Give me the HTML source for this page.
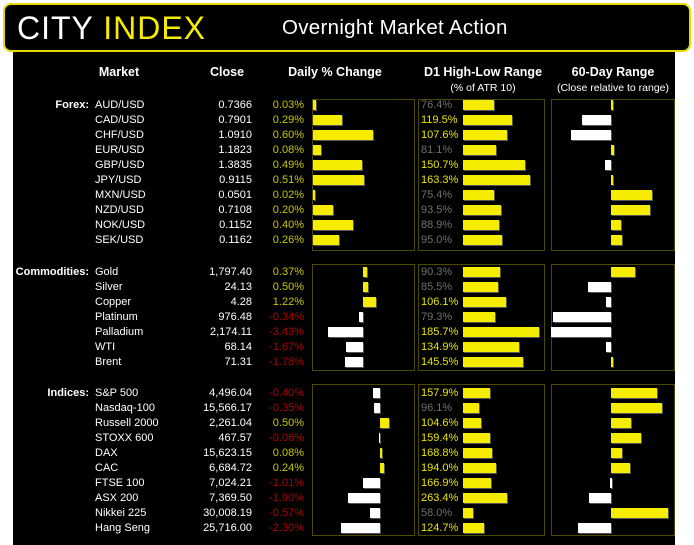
<!DOCTYPE html><html><head><style>
*{margin:0;padding:0;box-sizing:border-box}
body{width:694px;height:545px;background:#fff;position:relative;overflow:hidden;font-family:"Liberation Sans",sans-serif}
#bg{position:absolute;left:13px;top:40px;width:662px;height:505px;background:#000}
#hd{position:absolute;left:3px;top:3px;width:688px;height:49px;background:#000;border:2px solid #e6d800;border-radius:8px}
.t{position:absolute;font-size:11px;line-height:14px;color:#fff;white-space:nowrap}
.h{position:absolute;font-size:12.5px;font-weight:bold;color:#fff;white-space:nowrap;transform:translateX(-50%)}
.s{position:absolute;font-size:10.5px;color:#fff;white-space:nowrap;transform:translateX(-50%)}
.p{position:absolute;border:1px solid #4d4a00}
.b{position:absolute;height:10px;box-shadow:1px 1px 0 #555}
.y{background:#f5ec00}.w{background:#fff}
.r{text-align:right}
.g{color:#c8c800}.n{color:#b00000}.gr{color:#707070}.yl{color:#e8e400}
</style></head><body>
<div id="bg"></div>
<div id="hd">
<div style="position:absolute;left:12px;top:5px;font-size:32px;letter-spacing:1px;color:#fff">CITY <span style="color:#f5ec00">INDEX</span></div>
<div style="position:absolute;left:277px;top:11px;font-size:20.5px;letter-spacing:0.3px;color:#fff">Overnight Market Action</div>
</div>
<div class="h" style="left:119px;top:65px">Market</div>
<div class="h" style="left:227px;top:65px">Close</div>
<div class="h" style="left:335px;top:65px">Daily % Change</div>
<div class="h" style="left:483px;top:65px">D1 High-Low Range</div>
<div class="h" style="left:613px;top:65px">60-Day Range</div>
<div class="s" style="left:483px;top:82px">(% of ATR 10)</div>
<div class="s" style="left:613px;top:82px">(Close relative to range)</div>

<div class="p" style="left:312px;top:99px;width:103px;height:152px"></div>
<div class="p" style="left:418px;top:99px;width:127px;height:152px"></div>
<div class="p" style="left:551px;top:99px;width:124px;height:152px"></div>
<div class="p" style="left:312px;top:264px;width:103px;height:107px"></div>
<div class="p" style="left:418px;top:264px;width:127px;height:107px"></div>
<div class="p" style="left:551px;top:264px;width:124px;height:107px"></div>
<div class="p" style="left:312px;top:384px;width:103px;height:152px"></div>
<div class="p" style="left:418px;top:384px;width:127px;height:152px"></div>
<div class="p" style="left:551px;top:384px;width:124px;height:152px"></div>

<div class="t r" style="left:0;width:89px;top:98px;font-weight:bold">Forex:</div>
<div class="t r" style="left:0;width:89px;top:265px;font-weight:bold">Commodities:</div>
<div class="t r" style="left:0;width:89px;top:386px;font-weight:bold">Indices:</div>

<!-- FOREX -->
<div class="t" style="left:95px;top:98px">AUD/USD</div><div class="t r" style="left:180px;width:72px;top:98px">0.7366</div><div class="t r g" style="left:250px;width:54px;top:98px">0.03%</div><div class="b y" style="left:313px;top:100px;width:3px"></div><div class="t gr" style="left:421px;top:98px">76.4%</div><div class="b y" style="left:463px;top:100px;width:31px"></div><div class="b y" style="left:611px;top:100px;width:2px"></div>
<div class="t" style="left:95px;top:113px">CAD/USD</div><div class="t r" style="left:180px;width:72px;top:113px">0.7901</div><div class="t r g" style="left:250px;width:54px;top:113px">0.29%</div><div class="b y" style="left:313px;top:115px;width:29px"></div><div class="t yl" style="left:421px;top:113px">119.5%</div><div class="b y" style="left:463px;top:115px;width:49px"></div><div class="b w" style="left:582px;top:115px;width:29px"></div>
<div class="t" style="left:95px;top:128px">CHF/USD</div><div class="t r" style="left:180px;width:72px;top:128px">1.0910</div><div class="t r g" style="left:250px;width:54px;top:128px">0.60%</div><div class="b y" style="left:313px;top:130px;width:60px"></div><div class="t yl" style="left:421px;top:128px">107.6%</div><div class="b y" style="left:463px;top:130px;width:44px"></div><div class="b w" style="left:571px;top:130px;width:40px"></div>
<div class="t" style="left:95px;top:143px">EUR/USD</div><div class="t r" style="left:180px;width:72px;top:143px">1.1823</div><div class="t r g" style="left:250px;width:54px;top:143px">0.08%</div><div class="b y" style="left:313px;top:145px;width:8px"></div><div class="t gr" style="left:421px;top:143px">81.1%</div><div class="b y" style="left:463px;top:145px;width:33px"></div><div class="b y" style="left:611px;top:145px;width:3px"></div>
<div class="t" style="left:95px;top:158px">GBP/USD</div><div class="t r" style="left:180px;width:72px;top:158px">1.3835</div><div class="t r g" style="left:250px;width:54px;top:158px">0.49%</div><div class="b y" style="left:313px;top:160px;width:49px"></div><div class="t yl" style="left:421px;top:158px">150.7%</div><div class="b y" style="left:463px;top:160px;width:62px"></div><div class="b w" style="left:605px;top:160px;width:6px"></div>
<div class="t" style="left:95px;top:173px">JPY/USD</div><div class="t r" style="left:180px;width:72px;top:173px">0.9115</div><div class="t r g" style="left:250px;width:54px;top:173px">0.51%</div><div class="b y" style="left:313px;top:175px;width:51px"></div><div class="t yl" style="left:421px;top:173px">163.3%</div><div class="b y" style="left:463px;top:175px;width:67px"></div><div class="b y" style="left:611px;top:175px;width:2px"></div>
<div class="t" style="left:95px;top:188px">MXN/USD</div><div class="t r" style="left:180px;width:72px;top:188px">0.0501</div><div class="t r g" style="left:250px;width:54px;top:188px">0.02%</div><div class="b y" style="left:313px;top:190px;width:2px"></div><div class="t gr" style="left:421px;top:188px">75.4%</div><div class="b y" style="left:463px;top:190px;width:31px"></div><div class="b y" style="left:611px;top:190px;width:41px"></div>
<div class="t" style="left:95px;top:203px">NZD/USD</div><div class="t r" style="left:180px;width:72px;top:203px">0.7108</div><div class="t r g" style="left:250px;width:54px;top:203px">0.20%</div><div class="b y" style="left:313px;top:205px;width:20px"></div><div class="t gr" style="left:421px;top:203px">93.5%</div><div class="b y" style="left:463px;top:205px;width:38px"></div><div class="b y" style="left:611px;top:205px;width:39px"></div>
<div class="t" style="left:95px;top:218px">NOK/USD</div><div class="t r" style="left:180px;width:72px;top:218px">0.1152</div><div class="t r g" style="left:250px;width:54px;top:218px">0.40%</div><div class="b y" style="left:313px;top:220px;width:40px"></div><div class="t gr" style="left:421px;top:218px">88.9%</div><div class="b y" style="left:463px;top:220px;width:36px"></div><div class="b y" style="left:611px;top:220px;width:10px"></div>
<div class="t" style="left:95px;top:233px">SEK/USD</div><div class="t r" style="left:180px;width:72px;top:233px">0.1162</div><div class="t r g" style="left:250px;width:54px;top:233px">0.26%</div><div class="b y" style="left:313px;top:235px;width:26px"></div><div class="t gr" style="left:421px;top:233px">95.0%</div><div class="b y" style="left:463px;top:235px;width:39px"></div><div class="b y" style="left:611px;top:235px;width:11px"></div>

<!-- COMMODITIES -->
<div class="t" style="left:95px;top:265px">Gold</div><div class="t r" style="left:180px;width:72px;top:265px">1,797.40</div><div class="t r g" style="left:250px;width:54px;top:265px">0.37%</div><div class="b y" style="left:363px;top:267px;width:4px"></div><div class="t gr" style="left:421px;top:265px">90.3%</div><div class="b y" style="left:463px;top:267px;width:37px"></div><div class="b y" style="left:611px;top:267px;width:24px"></div>
<div class="t" style="left:95px;top:280px">Silver</div><div class="t r" style="left:180px;width:72px;top:280px">24.13</div><div class="t r g" style="left:250px;width:54px;top:280px">0.50%</div><div class="b y" style="left:363px;top:282px;width:5px"></div><div class="t gr" style="left:421px;top:280px">85.5%</div><div class="b y" style="left:463px;top:282px;width:35px"></div><div class="b w" style="left:588px;top:282px;width:23px"></div>
<div class="t" style="left:95px;top:295px">Copper</div><div class="t r" style="left:180px;width:72px;top:295px">4.28</div><div class="t r g" style="left:250px;width:54px;top:295px">1.22%</div><div class="b y" style="left:363px;top:297px;width:13px"></div><div class="t yl" style="left:421px;top:295px">106.1%</div><div class="b y" style="left:463px;top:297px;width:43px"></div><div class="b w" style="left:606px;top:297px;width:5px"></div>
<div class="t" style="left:95px;top:310px">Platinum</div><div class="t r" style="left:180px;width:72px;top:310px">976.48</div><div class="t r n" style="left:250px;width:54px;top:310px">-0.34%</div><div class="b w" style="left:359px;top:312px;width:4px"></div><div class="t gr" style="left:421px;top:310px">79.3%</div><div class="b y" style="left:463px;top:312px;width:32px"></div><div class="b w" style="left:553px;top:312px;width:58px"></div>
<div class="t" style="left:95px;top:325px">Palladium</div><div class="t r" style="left:180px;width:72px;top:325px">2,174.11</div><div class="t r n" style="left:250px;width:54px;top:325px">-3.43%</div><div class="b w" style="left:328px;top:327px;width:35px"></div><div class="t yl" style="left:421px;top:325px">185.7%</div><div class="b y" style="left:463px;top:327px;width:76px"></div><div class="b w" style="left:551px;top:327px;width:60px"></div>
<div class="t" style="left:95px;top:340px">WTI</div><div class="t r" style="left:180px;width:72px;top:340px">68.14</div><div class="t r n" style="left:250px;width:54px;top:340px">-1.67%</div><div class="b w" style="left:346px;top:342px;width:17px"></div><div class="t yl" style="left:421px;top:340px">134.9%</div><div class="b y" style="left:463px;top:342px;width:56px"></div><div class="b w" style="left:606px;top:342px;width:5px"></div>
<div class="t" style="left:95px;top:355px">Brent</div><div class="t r" style="left:180px;width:72px;top:355px">71.31</div><div class="t r n" style="left:250px;width:54px;top:355px">-1.78%</div><div class="b w" style="left:345px;top:357px;width:18px"></div><div class="t yl" style="left:421px;top:355px">145.5%</div><div class="b y" style="left:463px;top:357px;width:60px"></div><div class="b y" style="left:611px;top:357px;width:2px"></div>

<!-- INDICES -->
<div class="t" style="left:95px;top:386px">S&amp;P 500</div><div class="t r" style="left:180px;width:72px;top:386px">4,496.04</div><div class="t r n" style="left:250px;width:54px;top:386px">-0.40%</div><div class="b w" style="left:373px;top:388px;width:7px"></div><div class="t yl" style="left:421px;top:386px">157.9%</div><div class="b y" style="left:463px;top:388px;width:27px"></div><div class="b y" style="left:611px;top:388px;width:46px"></div>
<div class="t" style="left:95px;top:401px">Nasdaq-100</div><div class="t r" style="left:180px;width:72px;top:401px">15,566.17</div><div class="t r n" style="left:250px;width:54px;top:401px">-0.35%</div><div class="b w" style="left:374px;top:403px;width:6px"></div><div class="t gr" style="left:421px;top:401px">96.1%</div><div class="b y" style="left:463px;top:403px;width:16px"></div><div class="b y" style="left:611px;top:403px;width:51px"></div>
<div class="t" style="left:95px;top:416px">Russell 2000</div><div class="t r" style="left:180px;width:72px;top:416px">2,261.04</div><div class="t r g" style="left:250px;width:54px;top:416px">0.50%</div><div class="b y" style="left:380px;top:418px;width:9px"></div><div class="t yl" style="left:421px;top:416px">104.6%</div><div class="b y" style="left:463px;top:418px;width:18px"></div><div class="b y" style="left:611px;top:418px;width:20px"></div>
<div class="t" style="left:95px;top:431px">STOXX 600</div><div class="t r" style="left:180px;width:72px;top:431px">467.57</div><div class="t r n" style="left:250px;width:54px;top:431px">-0.06%</div><div class="b w" style="left:379px;top:433px;width:1px"></div><div class="t yl" style="left:421px;top:431px">159.4%</div><div class="b y" style="left:463px;top:433px;width:27px"></div><div class="b y" style="left:611px;top:433px;width:30px"></div>
<div class="t" style="left:95px;top:446px">DAX</div><div class="t r" style="left:180px;width:72px;top:446px">15,623.15</div><div class="t r g" style="left:250px;width:54px;top:446px">0.08%</div><div class="b y" style="left:380px;top:448px;width:2px"></div><div class="t yl" style="left:421px;top:446px">168.8%</div><div class="b y" style="left:463px;top:448px;width:29px"></div><div class="b y" style="left:611px;top:448px;width:11px"></div>
<div class="t" style="left:95px;top:461px">CAC</div><div class="t r" style="left:180px;width:72px;top:461px">6,684.72</div><div class="t r g" style="left:250px;width:54px;top:461px">0.24%</div><div class="b y" style="left:380px;top:463px;width:4px"></div><div class="t yl" style="left:421px;top:461px">194.0%</div><div class="b y" style="left:463px;top:463px;width:33px"></div><div class="b y" style="left:611px;top:463px;width:19px"></div>
<div class="t" style="left:95px;top:476px">FTSE 100</div><div class="t r" style="left:180px;width:72px;top:476px">7,024.21</div><div class="t r n" style="left:250px;width:54px;top:476px">-1.01%</div><div class="b w" style="left:363px;top:478px;width:17px"></div><div class="t yl" style="left:421px;top:476px">166.9%</div><div class="b y" style="left:463px;top:478px;width:28px"></div><div class="b w" style="left:610px;top:478px;width:2px"></div>
<div class="t" style="left:95px;top:491px">ASX 200</div><div class="t r" style="left:180px;width:72px;top:491px">7,369.50</div><div class="t r n" style="left:250px;width:54px;top:491px">-1.90%</div><div class="b w" style="left:348px;top:493px;width:32px"></div><div class="t yl" style="left:421px;top:491px">263.4%</div><div class="b y" style="left:463px;top:493px;width:44px"></div><div class="b w" style="left:589px;top:493px;width:22px"></div>
<div class="t" style="left:95px;top:506px">Nikkei 225</div><div class="t r" style="left:180px;width:72px;top:506px">30,008.19</div><div class="t r n" style="left:250px;width:54px;top:506px">-0.57%</div><div class="b w" style="left:370px;top:508px;width:10px"></div><div class="t gr" style="left:421px;top:506px">58.0%</div><div class="b y" style="left:463px;top:508px;width:10px"></div><div class="b y" style="left:611px;top:508px;width:57px"></div>
<div class="t" style="left:95px;top:521px">Hang Seng</div><div class="t r" style="left:180px;width:72px;top:521px">25,716.00</div><div class="t r n" style="left:250px;width:54px;top:521px">-2.30%</div><div class="b w" style="left:341px;top:523px;width:39px"></div><div class="t yl" style="left:421px;top:521px">124.7%</div><div class="b y" style="left:463px;top:523px;width:21px"></div><div class="b w" style="left:578px;top:523px;width:33px"></div>
</body></html>
